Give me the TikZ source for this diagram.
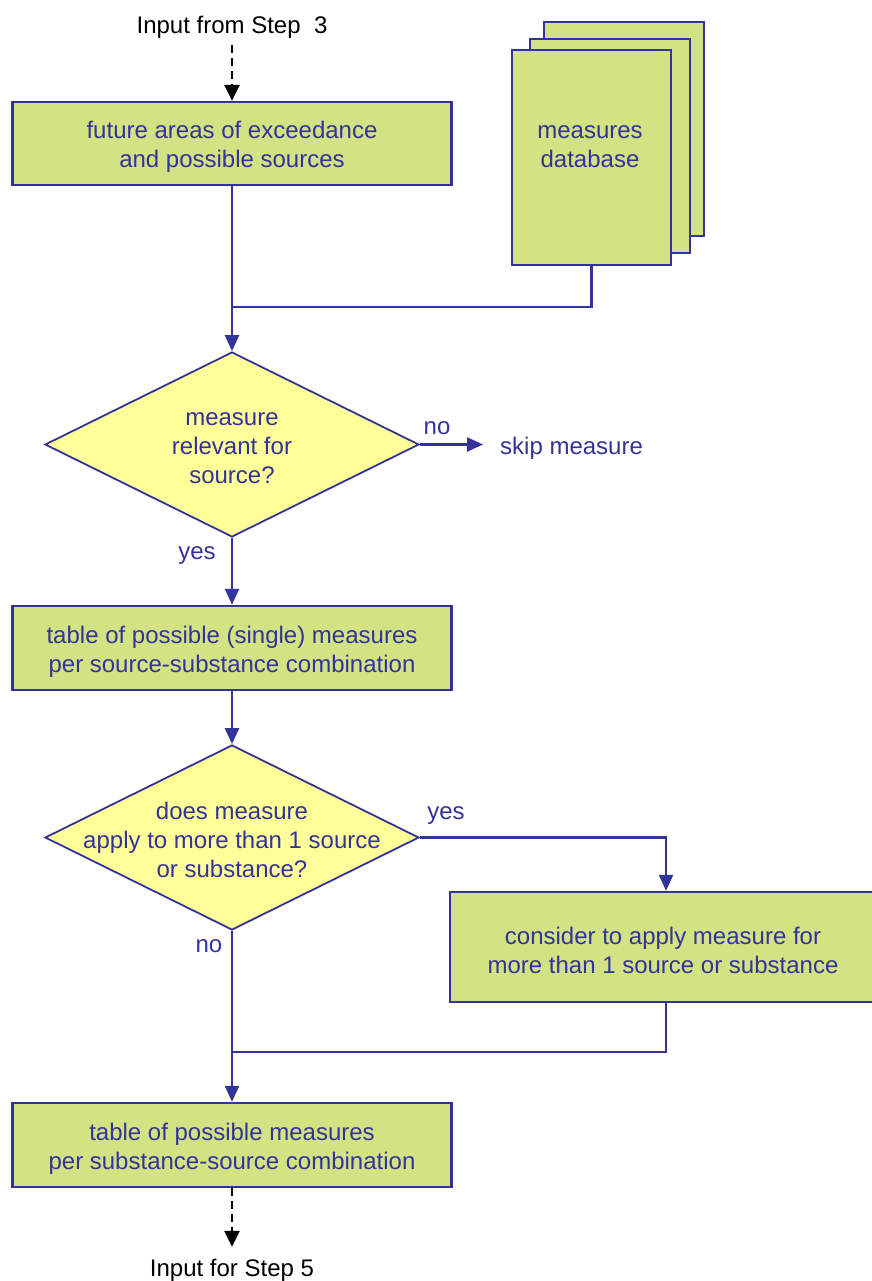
\documentclass[tikz,border=0pt]{standalone}
\usepackage{fontspec}
\setmainfont{Liberation Sans}
\usetikzlibrary{shapes.geometric,arrows.meta}
\definecolor{fblue}{HTML}{333399}
\definecolor{fgreen}{HTML}{D3E283}
\definecolor{fyellow}{HTML}{FFFF99}
\tikzset{
  fc/.style={font=\fontsize{24}{29}\selectfont},
  box/.style={draw=fblue, line width=2.4pt, fill=fgreen, inner sep=0pt},
  sheet/.style={draw=fblue, line width=2.4pt, fill=fgreen, inner sep=0pt},
  dia/.style={diamond, draw=fblue, line width=1.8pt, fill=fyellow, inner sep=0pt, minimum width=374pt, minimum height=185pt},
  txt/.style={fc, text=fblue, align=center, inner sep=0pt},
  lbl/.style={fc, text=fblue, inner sep=0pt},
  conn/.style={draw=fblue, line width=2.4pt},
  arr/.style={conn, -{Triangle[length=16pt,width=14pt]}},
  dasharr/.style={draw=black, line width=2.8pt, dash pattern=on 8pt off 5pt, -{Triangle[length=16pt,width=15pt]}},
  ext/.style={fc, text=black, inner sep=0pt}
}
\begin{document}
\begin{tikzpicture}[x=1pt,y=-1pt]
\useasboundingbox (0,0) rectangle (871,1281);
% external input/output
\node[ext, minimum height=36pt] (in) at (232,27) {Input from Step~~3};
\node[ext, minimum height=46pt] (out) at (232,1270) {Input for Step 5};
% boxes
\node[box, minimum width=439pt, minimum height=83pt] (b1) at (232,143.5) {};
\node[txt] (b1t) at (232,146.5) {future areas of exceedance\\and possible sources};
\node[box, minimum width=439pt, minimum height=84pt] (b2) at (232,648) {};
\node[txt] (b2t) at (232,652) {table of possible (single) measures\\per source-substance combination};
\node[box, minimum width=432pt, minimum height=110pt] (b3) at (666,947) {};
\node[txt] (b3t) at (663,950) {consider to apply measure for\\more than 1 source or substance};
\node[box, minimum width=439pt, minimum height=84pt] (b4) at (232,1145) {};
\node[txt] (b4t) at (232,1149) {table of possible measures\\per substance-source combination};
% database stack
\node[sheet, minimum width=160pt, minimum height=214pt] (db3) at (624,129) {};
\node[sheet, minimum width=160pt, minimum height=214pt] (db2) at (610,146) {};
\node[sheet, minimum width=159pt, minimum height=215pt] (db) at (591.5,157.5) {};
\node[txt] (dbt) at (590,147) {measures\\database};
% diamonds
\node[dia] (d1) at (232,444.5) {};
\node[txt] (d1t) at (232,448) {measure\\relevant for\\source?};
\node[dia] (d2) at (232,837.5) {};
\node[txt] (d2t) at (232,840) {does measure\\apply to more than 1 source\\or substance?};
% skip
\node[lbl, anchor=west, inner xsep=17pt] (skip) at (483,448) {skip measure};
% junctions
\coordinate (j1) at (232,307);
\coordinate (j2) at (232,1052);
% connectors
\draw[dasharr] (in.south) -- (b1.north);
\draw[conn] (b1.south) -- (j1);
\draw[conn] (db.south) |- (j1);
\draw[arr] (j1) -- (d1.north);
\draw[arr] (d1.east) -- (d1.east -| skip.west);
\draw[arr] (d1.south) -- (b2.north);
\draw[arr] (b2.south) -- (d2.north);
\draw[arr] (d2.east) -| (b3.north);
\draw[arr] (d2.south) -- (b4.north);
\draw[conn] (b3.south) |- (j2);
\draw[dasharr] (b4.south) -- (out.north);
% labels
\node[lbl] (no1) at (437,428) {no};
\node[lbl] (yes1) at (197,556) {yes};
\node[lbl] (yes2) at (446,816) {yes};
\node[lbl] (no2) at (209,946) {no};
\end{tikzpicture}
\end{document}
